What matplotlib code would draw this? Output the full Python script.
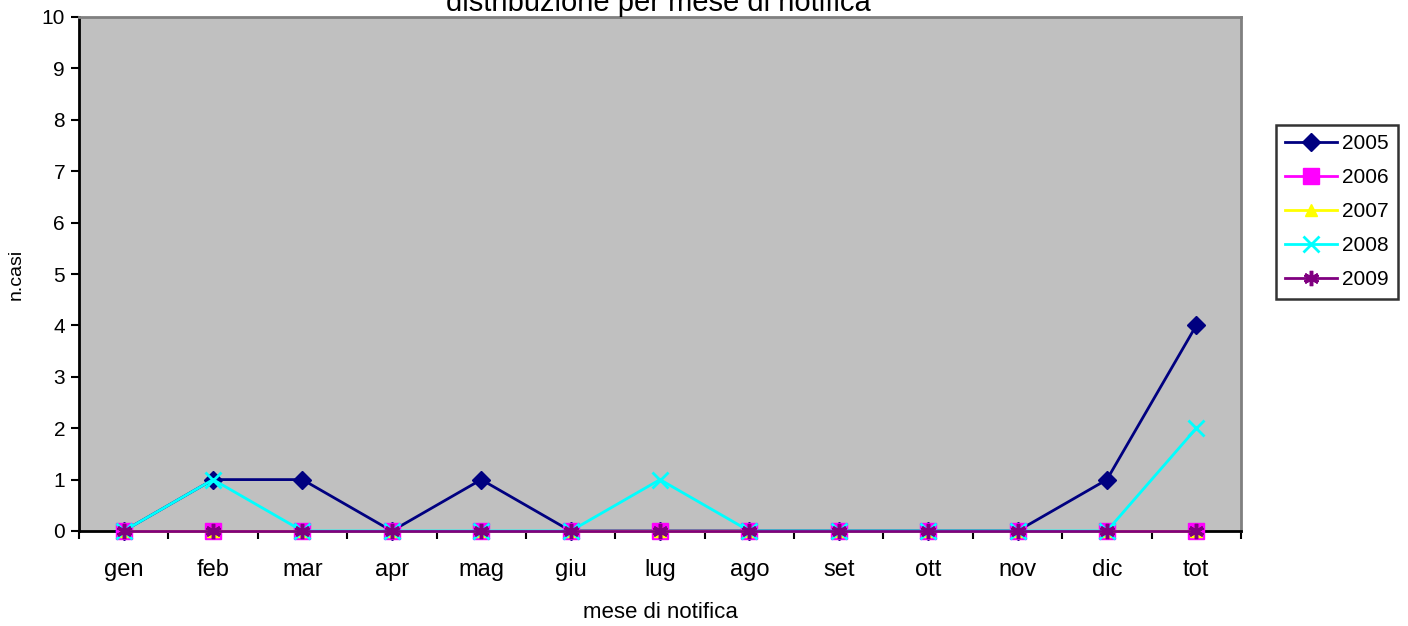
import numpy as np
import matplotlib.pyplot as plt

plt.rcParams['font.family'] = ['Liberation Sans', 'DejaVu Sans']

mesi = ['gen', 'feb', 'mar', 'apr', 'mag', 'giu', 'lug', 'ago', 'set', 'ott', 'nov', 'dic', 'tot']
anni = ['2005', '2006', '2007', '2008', '2009']
casi_2005 = [0, 1, 1, 0, 1, 0, 0, 0, 0, 0, 0, 1, 4]
casi_2006 = [0, 0, 0, 0, 0, 0, 0, 0, 0, 0, 0, 0, 0]
casi_2007 = [0, 0, 0, 0, 0, 0, 0, 0, 0, 0, 0, 0, 0]
casi_2008 = [0, 1, 0, 0, 0, 0, 1, 0, 0, 0, 0, 0, 2]
casi_2009 = [0, 0, 0, 0, 0, 0, 0, 0, 0, 0, 0, 0, 0]

serie = [casi_2005, casi_2006, casi_2007, casi_2008, casi_2009]
colori = ['#000080', '#FF00FF', '#FFFF00', '#00FFFF', '#800080']
marker = ['D', 's', '^', 'x', (6, 2, 0)]
msize = [9, 12, 9, 11, 11]
medge = [1, 1, 1, 2, 2.5]

fig = plt.figure(figsize=(14.08, 6.26), dpi=100)
ax = fig.add_axes([79/1408, 1 - 531/626, (1241 - 79)/1408, (531 - 17)/626])
ax.set_facecolor('#C0C0C0')

x = np.arange(len(mesi))
for i in range(len(anni)):
    ax.plot(x, serie[i], color=colori[i], marker=marker[i], markersize=msize[i],
            markeredgewidth=medge[i], linewidth=2, label=anni[i],
            clip_on=False, zorder=3 + i)

ax.set_xlim(-0.5, len(mesi) - 0.5)
ax.set_ylim(0, 10)
ax.set_yticks(range(0, 11))
ax.set_xticks(np.arange(-0.5, len(mesi)))
ax.set_xticklabels([])
ax.set_xticks(x, minor=True)
ax.set_xticklabels(mesi, minor=True, fontsize=17)
ax.tick_params(axis='x', which='minor', length=0, pad=20)
ax.tick_params(axis='x', which='major', length=6, width=1.5, direction='out')
ax.tick_params(axis='y', length=6, width=1.5, labelsize=15, pad=4)

for s in ['top', 'right']:
    ax.spines[s].set_color('#808080')
    ax.spines[s].set_linewidth(2)
for s in ['left', 'bottom']:
    ax.spines[s].set_color('black')
    ax.spines[s].set_linewidth(2)

ax.set_xlabel('mese di notifica', fontsize=16, labelpad=15)
ax.set_ylabel('n.casi', fontsize=14, labelpad=12)

# titolo tagliato in alto come nell'originale
fig.text(658/1408, 1 - 11/626, 'distribuzione per mese di notifica', ha='center',
         va='baseline', fontsize=21)

leg = fig.legend(loc='upper left', bbox_to_anchor=(1276/1408, 1 - 125/626),
                 fontsize=15, frameon=True, fancybox=False, handlelength=2.5,
                 borderpad=0.45, labelspacing=0.72, handletextpad=0.2,
                 borderaxespad=0)
leg.get_frame().set_edgecolor('black')
leg.get_frame().set_linewidth(1.8)

fig.savefig('out.png', dpi=100)
